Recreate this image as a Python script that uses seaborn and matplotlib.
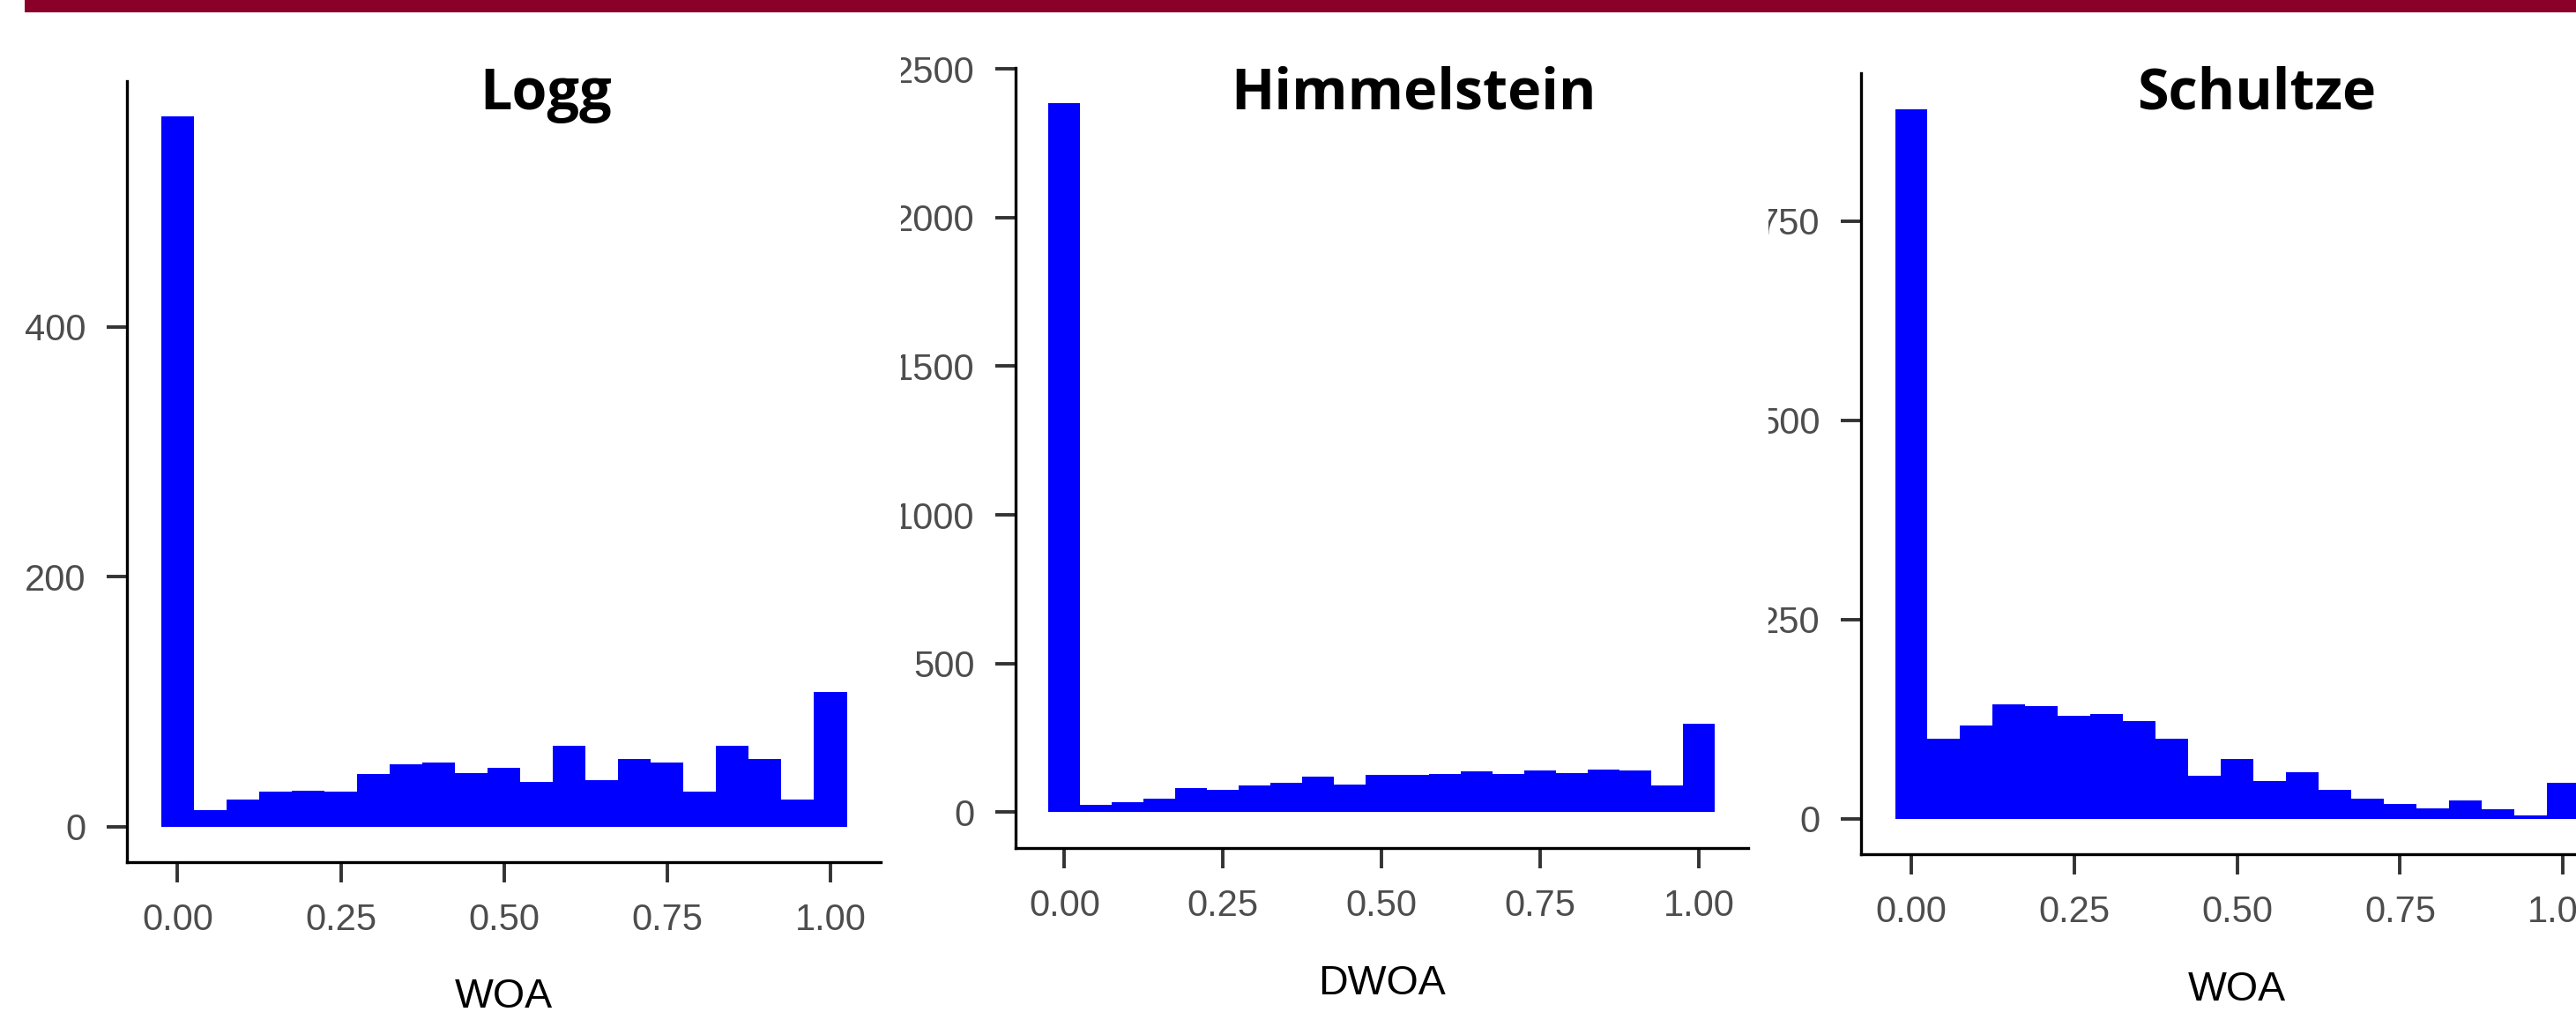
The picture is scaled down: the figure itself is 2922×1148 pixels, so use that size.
import numpy as np
import pandas as pd
import matplotlib
matplotlib.use("Agg")
import matplotlib.pyplot as plt
import seaborn as sns
from matplotlib.patches import Rectangle
from matplotlib.transforms import Bbox

# ---------------- data ----------------
bin_centers = [0.00, 0.05, 0.10, 0.15, 0.20, 0.25, 0.30, 0.35, 0.40, 0.45, 0.50,
               0.55, 0.60, 0.65, 0.70, 0.75, 0.80, 0.85, 0.90, 0.95, 1.00]
logg_counts = [568, 13, 22, 28, 29, 28, 42, 50, 51, 43, 47,
               36, 65, 37, 54, 51, 28, 65, 54, 22, 108]
himmelstein_counts = [2385, 25, 33, 46, 81, 76, 89, 99, 120, 92, 125,
                      125, 130, 139, 130, 141, 132, 144, 141, 89, 299]
schultze_counts = [891, 100, 117, 144, 141, 129, 131, 123, 100, 54, 75,
                   47, 58, 36, 25, 19, 13, 23, 12, 4, 45]

panel_titles = ["Logg", "Himmelstein", "Schultze"]
x_labels = ["WOA", "DWOA", "WOA"]
x_ticks = [0.00, 0.25, 0.50, 0.75, 1.00]
x_tick_labels = ["0.00", "0.25", "0.50", "0.75", "1.00"]
y_ticks = [[0, 200, 400], [0, 500, 1000, 1500, 2000, 2500], [0, 250, 500, 750]]

# ---------------- style ----------------
sns.set_style("white")
plt.rcParams["font.family"] = ["Liberation Sans", "DejaVu Sans"]

W, H = 2922, 1148
DPI = 100
fig = plt.figure(figsize=(W / DPI, H / DPI), dpi=DPI, facecolor="white")

# top maroon band
fig.add_artist(Rectangle((28 / W, 1 - 13.5 / H), 1, 13.5 / H, transform=fig.transFigure,
                         facecolor="#8A0029", edgecolor="none", zorder=5))

# axes boxes in pixels: left, right, top, bottom
boxes = [(144, 999.4, 92, 978),
         (1151.7, 1983, 76.7, 961.7),
         (2110.7, 2964.6, 83.3, 969)]
label_baselines = [1143, 1128, 1134.7]
title_centers = [618.7, 1604, 2560]
title_baseline = 124
clip_left = [None, 1021.5, 2006.0]

datasets = [logg_counts, himmelstein_counts, schultze_counts]
width = 0.05
edges = [round(c - width / 2, 4) for c in bin_centers] + [round(bin_centers[-1] + width / 2, 4)]

for i, counts in enumerate(datasets):
    l, r, t, b = boxes[i]
    ax = fig.add_axes([l / W, 1 - b / H, (r - l) / W, (b - t) / H])
    df = pd.DataFrame({"x": bin_centers, "n": counts})
    sns.histplot(data=df, x="x", weights="n", bins=edges, stat="count",
                 color="#0000FF", alpha=1, linewidth=0, ax=ax)
    span = edges[-1] - edges[0]
    ax.set_xlim(edges[0] - 0.05 * span, edges[-1] + 0.05 * span)
    ymax = max(counts)
    ax.set_ylim(-0.05 * ymax, 1.05 * ymax)

    ax.set_xticks(x_ticks)
    ax.set_xticklabels(x_tick_labels)
    ax.set_yticks(y_ticks[i])
    ax.set_yticklabels([str(v) for v in y_ticks[i]])

    ax.tick_params(axis="both", bottom=True, left=True, direction="out",
                   length=16.6, width=2.8, color="#333333", labelcolor="#4D4D4D",
                   labelsize=30, pad=16.8)
    for s in ["top", "right"]:
        ax.spines[s].set_visible(False)
    for s in ["left", "bottom"]:
        ax.spines[s].set_visible(True)
        ax.spines[s].set_linewidth(2.4)
        ax.spines[s].set_color("black")
        ax.spines[s].set_capstyle("projecting")

    ax.set_ylabel("")
    ax.set_xlabel(x_labels[i], fontsize=33.5, color="black")
    ax.xaxis.label.set_va("baseline")
    ax.xaxis.set_label_coords(0.5, -(label_baselines[i] - b) / (b - t))
    ax.grid(False)

    if clip_left[i] is not None:
        cb = Bbox.from_extents(clip_left[i], 0, 5000, H)
        for tk in ax.yaxis.get_major_ticks():
            tk.label1.set_clip_box(cb)
            tk.label1.set_clip_on(True)

    fig.text(title_centers[i] / W, 1 - title_baseline / H, panel_titles[i],
             ha="center", va="baseline", fontsize=46.5, fontweight="bold",
             family=["Open Sans", "DejaVu Sans"], color="black")

fig.savefig("out.png", dpi=DPI, facecolor="white")
